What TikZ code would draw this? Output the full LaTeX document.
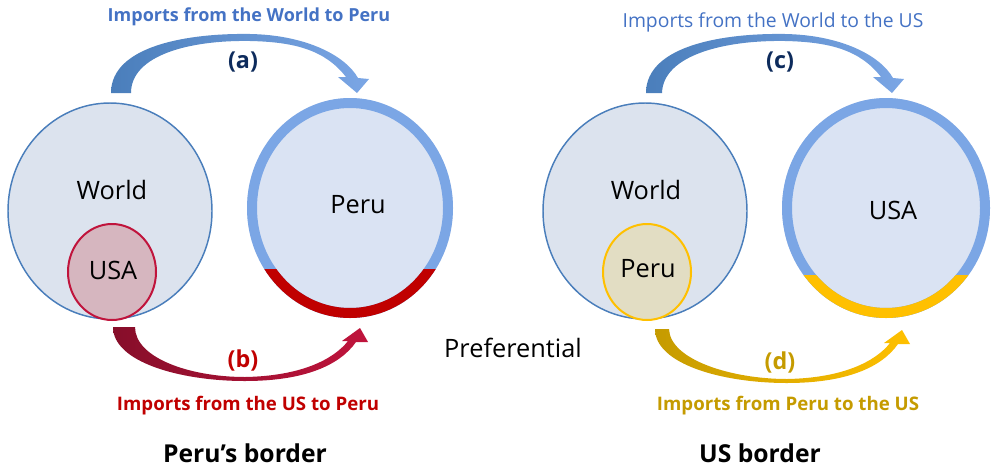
\documentclass[tikz,border=0pt]{standalone}
\usepackage{fontspec}
\setmainfont{Open Sans}
\usetikzlibrary{positioning,calc}

\definecolor{worldfill}{HTML}{DCE3EE}
\definecolor{worldline}{HTML}{4A7EBB}
\definecolor{bigfill}{HTML}{DAE3F3}
\definecolor{ringblue}{HTML}{7BA6E5}
\definecolor{ringred}{HTML}{C00000}
\definecolor{ringgold}{HTML}{FFC000}
\definecolor{usafill}{HTML}{D6B6BF}
\definecolor{usaline}{HTML}{C0143C}
\definecolor{perufill}{HTML}{E2DDC3}
\definecolor{titleblue}{HTML}{4472C4}
\definecolor{navy}{HTML}{0D2B5C}
\definecolor{gold}{HTML}{C59B00}

\begin{document}
\begin{tikzpicture}[x=0.75pt,y=-0.75pt,
  world_disc/.style={draw=worldline,line width=1.1pt,fill=worldfill},
  big_disc/.style={fill=bigfill},
  ring/.style={line width=7.5pt},
  in_text/.style={font=\fontsize{19}{22}\selectfont},
  tag/.style={font=\bfseries\fontsize{17.5}{20}\selectfont},
  flow_text/.style={font=\fontsize{14.5}{17}\selectfont},
  flow_bold/.style={font=\bfseries\fontsize{14}{17}\selectfont},
  border_text/.style={font=\bfseries\fontsize{18.5}{21}\selectfont}
  ]
  \useasboundingbox (0,0) rectangle (991,468);

  % Peru's border
  \coordinate (WorldL) at (110,211);
  \coordinate (UsaS) at (112,272);
  \coordinate (PeruB) at (350,208);
  \draw[world_disc] (WorldL) ellipse [x radius=102, y radius=108];
  \draw[draw=usaline,line width=1.5pt,fill=usafill] (UsaS) ellipse [x radius=44, y radius=48];
  \fill[big_disc] (PeruB) ellipse [x radius=103, y radius=110];
  \draw[ring,ringblue] (PeruB) ellipse [x radius=98, y radius=105];
  \begin{scope}
    \clip (230,269) rectangle (470,330);
    \draw[ring,ringred] (PeruB) ellipse [x radius=98, y radius=105];
  \end{scope}

  \node[in_text] (WorldLText) at (112,190) {World};
  \node[in_text] (UsaSText) at (113,270) {USA};
  \node[in_text] (PeruBText) at (358,205) {Peru};

  \shade[left color=worldline,right color=ringblue]
    (111,93) .. controls (111,45) and (190,33) .. (250,34)
    .. controls (305,35) and (345,55) .. (358,78)
    -- (369,79) -- (357,93) -- (338,77) -- (346,77)
    .. controls (325,50) and (295,42) .. (250,41)
    .. controls (190,40) and (131,55) .. (131,93) -- cycle;
  \shade[left color=usaline!70!black,right color=usaline]
    (113,327) .. controls (113,362) and (180,381) .. (245,381)
    .. controls (305,381) and (340,365) .. (356,342)
    -- (368,342) -- (360,328) -- (342,341) -- (348,341)
    .. controls (333,360) and (300,376) .. (245,377)
    .. controls (190,377) and (135,358) .. (135,327) -- cycle;

  \node[tag,text=navy] (TagA) at (243,62) {(a)};
  \node[tag,text=ringred] (TagB) at (243,360) {(b)};
  \node[flow_bold,font=\bfseries\fontsize{13.5}{16}\selectfont,text=titleblue] (FlowA) at (249,17) {Imports from the World to Peru};
  \node[flow_bold,text=ringred] (FlowB) at (248,406) {Imports from the US to Peru};
  \node[border_text] (PeruBorder) at (245,453) {Peru’s border};

  \node[font=\fontsize{19}{22}\selectfont] (Pref) at (513,348) {Preferential};

  % US border
  \coordinate (WorldR) at (645,211);
  \coordinate (PeruS) at (647,272);
  \coordinate (UsaB) at (886,208);
  \draw[world_disc] (WorldR) ellipse [x radius=102, y radius=108];
  \draw[draw=ringgold,line width=1.5pt,fill=perufill] (PeruS) ellipse [x radius=44, y radius=48];
  \fill[big_disc] (UsaB) ellipse [x radius=104, y radius=110];
  \draw[ring,ringblue] (UsaB) ellipse [x radius=99, y radius=105];
  \begin{scope}
    \clip (770,275) rectangle (1000,330);
    \draw[ring,ringgold] (UsaB) ellipse [x radius=99, y radius=105];
  \end{scope}

  \node[in_text] (WorldRText) at (646,190) {World};
  \node[in_text] (PeruSText) at (648,269) {Peru};
  \node[in_text] (UsaBText) at (893,210) {USA};

  \begin{scope}[shift={(535,0)}]
    \shade[left color=worldline,right color=ringblue]
      (111,93) .. controls (111,45) and (190,33) .. (250,34)
      .. controls (305,35) and (345,55) .. (358,78)
      -- (369,79) -- (357,93) -- (338,77) -- (346,77)
      .. controls (325,50) and (295,42) .. (250,41)
      .. controls (190,40) and (128,55) .. (127,93) -- cycle;
  \end{scope}
  \begin{scope}[shift={(542,2)}]
    \shade[left color=gold,right color=ringgold]
      (113,327) .. controls (113,362) and (180,381) .. (245,381)
      .. controls (305,381) and (340,365) .. (356,342)
      -- (368,342) -- (360,328) -- (342,341) -- (348,341)
      .. controls (333,360) and (300,376) .. (245,377)
      .. controls (190,377) and (128,358) .. (127,327) -- cycle;
  \end{scope}

  \node[tag,text=navy] (TagC) at (780,62) {(c)};
  \node[tag,text=gold] (TagD) at (780,362) {(d)};
  \node[flow_text,text=titleblue] (FlowC) at (773,22) {Imports from the World to the US};
  \node[flow_bold,text=gold] (FlowD) at (788,406) {Imports from Peru to the US};
  \node[border_text] (UsBorder) at (760,453) {US border};
\end{tikzpicture}
\end{document}
